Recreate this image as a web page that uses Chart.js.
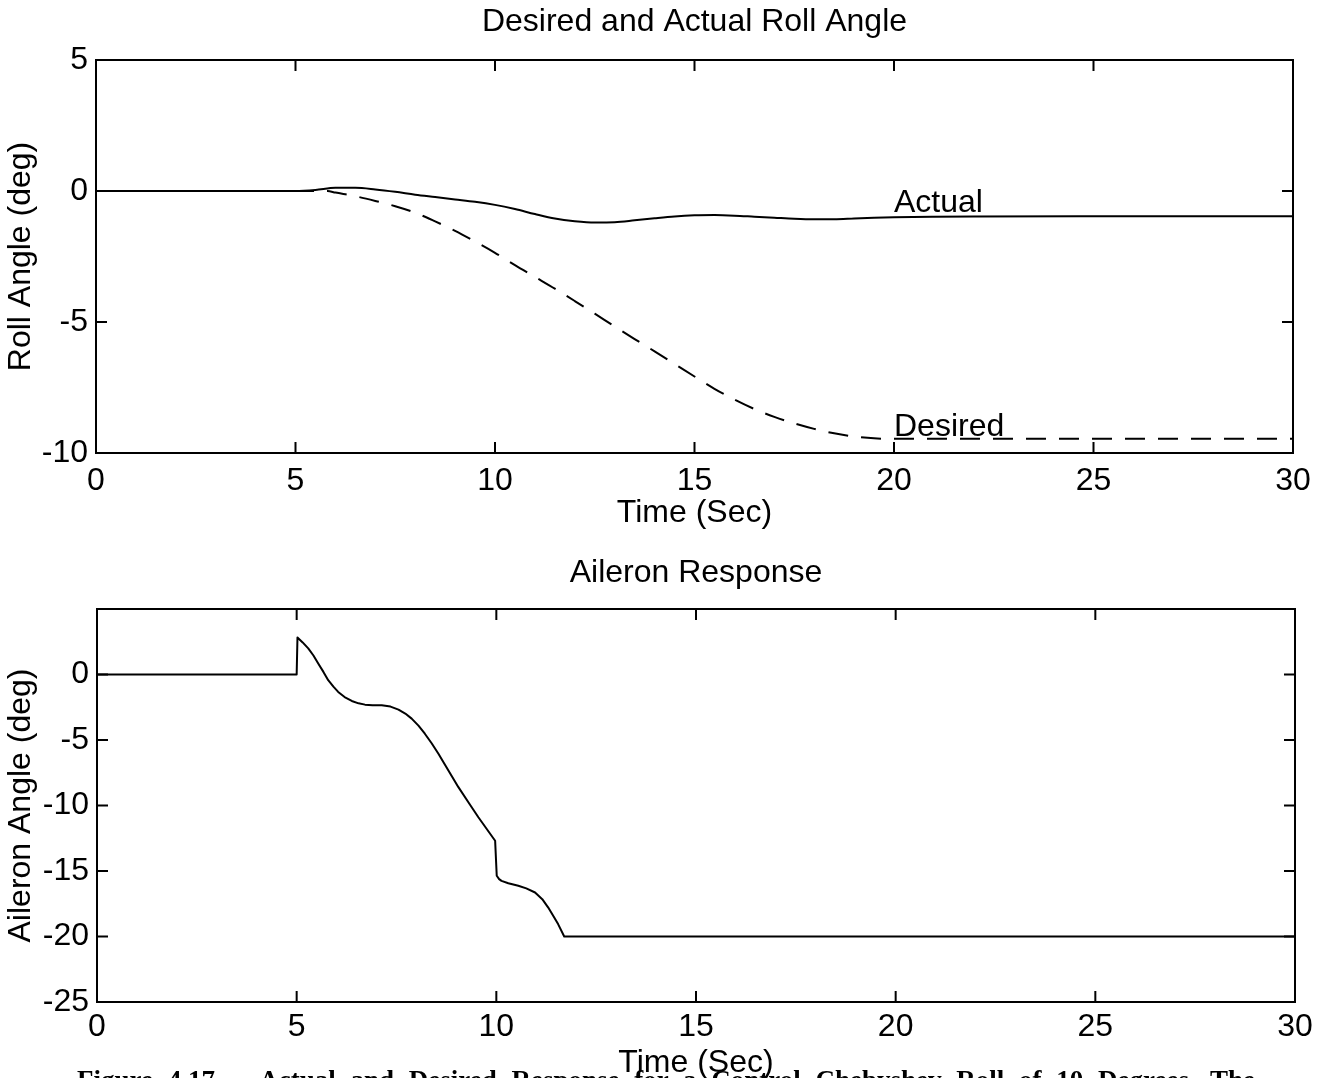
<!DOCTYPE html>
<html>
<head>
<meta charset="utf-8">
<title>Desired and Actual Roll Angle / Aileron Response</title>
<script src="https://cdn.jsdelivr.net/npm/chart.js@4.4.1/dist/chart.umd.min.js"></script>
<style>
  html, body { margin: 0; padding: 0; background: #fff; overflow: hidden; width: 1322px; height: 1078px; }
  #wrap { position: relative; width: 1322px; height: 1078px; overflow: hidden; }
  #c1 { position: absolute; left: 0; top: 0; }
  #c2 { position: absolute; left: 0; top: 540px; }
  #caption {
    position: absolute; left: 77px; top: 1065px; white-space: nowrap;
    font: bold 27px "Liberation Serif", "DejaVu Serif", serif; color: #000; word-spacing: 8px;
  }
</style>
</head>
<body>
<div id="wrap">
  <canvas id="c1" width="1322" height="540"></canvas>
  <canvas id="c2" width="1322" height="545"></canvas>
  <div id="caption">Figure 4.17&nbsp;&nbsp;&nbsp;Actual and Desired Response for a Control Chebyshev Roll of 10 Degrees. The</div>
</div>
<script>
// ---- Roll angle (deg) vs time (s) ----
const rollActualTime = [0, 5, 5.5, 6, 6.5, 7, 7.5, 8, 8.5, 9, 9.5, 10, 10.5, 11, 11.5, 12, 12.5, 13, 13.5, 14, 14.5, 15, 15.5, 16, 16.5, 17, 17.5, 18, 18.5, 19, 19.5, 20, 21, 22, 25, 30];
const rollActual     = [0, 0, 0.04, 0.12, 0.12, 0.06, -0.03, -0.14, -0.23, -0.32, -0.41, -0.53, -0.69, -0.88, -1.05, -1.15, -1.20, -1.19, -1.12, -1.04, -0.97, -0.93, -0.92, -0.94, -0.98, -1.02, -1.06, -1.08, -1.08, -1.05, -1.02, -1.00, -0.98, -0.97, -0.96, -0.96];

const rollDesiredTime = [0, 5.8, 6, 6.5, 7, 7.5, 8, 8.5, 9, 9.5, 10, 10.5, 11, 11.5, 12, 12.5, 13, 13.5, 14, 14.5, 15, 15.5, 16, 16.5, 17, 17.5, 18, 18.5, 19, 19.5, 20, 25, 30];
const rollDesired     = [0, 0, -0.06, -0.20, -0.38, -0.58, -0.83, -1.16, -1.52, -1.93, -2.36, -2.83, -3.28, -3.73, -4.20, -4.68, -5.17, -5.65, -6.12, -6.60, -7.08, -7.55, -7.96, -8.32, -8.62, -8.87, -9.08, -9.25, -9.37, -9.44, -9.46, -9.46, -9.46];

// ---- Aileron deflection (deg) vs time (s) ----
const aileronTime = [0, 5, 5.02, 5.15, 5.29, 5.42, 5.54, 5.67, 5.79, 5.92, 6.04, 6.2, 6.38, 6.55, 6.71, 6.9, 7.13, 7.35, 7.55, 7.72, 7.88, 8.05, 8.21, 8.38, 8.55, 8.8, 9.05, 9.3, 9.55, 9.97, 10.01, 10.07, 10.13, 10.3, 10.55, 10.75, 10.97, 11.15, 11.3, 11.45, 11.55, 11.7, 30];
const aileron     = [0, 0, 2.83, 2.45, 1.99, 1.45, 0.84, 0.2, -0.43, -0.93, -1.33, -1.72, -2.02, -2.20, -2.30, -2.34, -2.35, -2.45, -2.68, -2.98, -3.37, -3.90, -4.52, -5.25, -6.05, -7.33, -8.60, -9.75, -10.90, -12.69, -15.36, -15.62, -15.75, -15.93, -16.13, -16.33, -16.64, -17.15, -17.79, -18.55, -19.07, -20, -20];

// ---- Axes, ticks and text ----
const timeRange = [0, 30];
const timeStep = 5;
const rollRange = [-10, 5];
const aileronRange = [-25, 5];
const angleStep = 5;
const titles = ['Desired and Actual Roll Angle', 'Aileron Response'];
const xTitle = 'Time (Sec)';
const yTitles = ['Roll Angle (deg)', 'Aileron Angle (deg)'];
const curveNotes = [
  { text: 'Actual', x: 20, y: -0.45 },
  { text: 'Desired', x: 20, y: -9.0 }
];

const FONT = '"Liberation Sans", Arial, Helvetica, sans-serif';
const FS = 32;
Chart.defaults.color = '#000';
Chart.defaults.font.family = FONT;

const pts = (ts, vs) => ts.map((t, i) => ({ x: t, y: vs[i] }));

// Box frame with inward tick marks on all four sides, plus in-plot text labels
function framePlugin(notes) {
  return {
    id: 'frame',
    afterDraw(chart) {
      const { ctx, chartArea: a, scales: { x, y } } = chart;
      ctx.save();
      ctx.strokeStyle = '#000';
      ctx.lineWidth = 2;
      ctx.strokeRect(a.left, a.top, a.right - a.left, a.bottom - a.top);
      const len = 11;
      ctx.beginPath();
      x.ticks.forEach(t => {
        if (t.value <= x.min || t.value >= x.max) return;
        const p = x.getPixelForValue(t.value);
        ctx.moveTo(p, a.bottom); ctx.lineTo(p, a.bottom - len);
        ctx.moveTo(p, a.top); ctx.lineTo(p, a.top + len);
      });
      y.ticks.forEach(t => {
        if (t.value <= y.min || t.value >= y.max) return;
        const p = y.getPixelForValue(t.value);
        ctx.moveTo(a.left, p); ctx.lineTo(a.left + len, p);
        ctx.moveTo(a.right, p); ctx.lineTo(a.right - len, p);
      });
      ctx.stroke();
      ctx.fillStyle = '#000';
      ctx.font = FS + 'px ' + FONT;
      ctx.textAlign = 'left';
      ctx.textBaseline = 'middle';
      notes.forEach(n => ctx.fillText(n.text, x.getPixelForValue(n.x), y.getPixelForValue(n.y)));
      ctx.restore();
    }
  };
}

function makeOptions(cfg) {
  return {
    responsive: false,
    animation: false,
    events: [],
    layout: { padding: { left: 0, right: cfg.padRight, top: 0, bottom: 0 } },
    plugins: {
      legend: { display: false },
      tooltip: { enabled: false },
      title: {
        display: true,
        fullSize: false,
        text: cfg.title,
        color: '#000',
        font: { size: FS, weight: 'normal', lineHeight: 1.2 },
        padding: { top: cfg.titleTop, bottom: cfg.titleBottom }
      }
    },
    scales: {
      x: {
        type: 'linear',
        min: timeRange[0], max: timeRange[1],
        grid: { display: false, drawTicks: false, tickLength: 0 },
        border: { display: false },
        ticks: { stepSize: timeStep, padding: cfg.xTickPad, font: { size: FS, lineHeight: 1.2 }, maxRotation: 0, autoSkip: false },
        title: { display: true, text: xTitle, font: { size: FS, lineHeight: 1.2 }, padding: { top: 0, bottom: cfg.xTitlePad } },
        afterFit(s) { s.height = cfg.xHeight; }
      },
      y: {
        type: 'linear',
        min: cfg.yRange[0], max: cfg.yRange[1],
        grid: { display: false, drawTicks: false, tickLength: 0 },
        border: { display: false },
        ticks: {
          stepSize: angleStep, padding: 8, font: { size: FS, lineHeight: 1.2 },
          callback: cfg.yLabel
        },
        title: { display: true, text: cfg.yTitle, font: { size: FS, lineHeight: 1.2 }, padding: { top: 2, bottom: 0 } },
        afterFit(s) { s.width = cfg.yWidth; }
      }
    }
  };
}

new Chart(document.getElementById('c1'), {
  type: 'line',
  data: {
    datasets: [
      {
        label: 'Desired',
        data: pts(rollDesiredTime, rollDesired),
        borderColor: '#000', borderWidth: 2, borderDash: [20, 13],
        pointRadius: 0, fill: false, cubicInterpolationMode: 'monotone'
      },
      {
        label: 'Actual',
        data: pts(rollActualTime, rollActual),
        borderColor: '#000', borderWidth: 2,
        pointRadius: 0, fill: false, cubicInterpolationMode: 'monotone'
      }
    ]
  },
  options: makeOptions({
    title: titles[0], titleTop: 3, titleBottom: 18.6,
    padRight: 29, xHeight: 87, xTickPad: 9, xTitlePad: 8,
    yRange: rollRange, yTitle: yTitles[0], yWidth: 96,
    yLabel: v => v
  }),
  plugins: [framePlugin(curveNotes)]
});

new Chart(document.getElementById('c2'), {
  type: 'line',
  data: {
    datasets: [
      {
        label: 'Aileron',
        data: pts(aileronTime, aileron),
        borderColor: '#000', borderWidth: 2, borderJoinStyle: 'round',
        pointRadius: 0, fill: false, tension: 0
      }
    ]
  },
  options: makeOptions({
    title: titles[1], titleTop: 14, titleBottom: 16.6,
    padRight: 27, xHeight: 83, xTickPad: 6, xTitlePad: 3,
    yRange: aileronRange, yTitle: yTitles[1], yWidth: 97,
    yLabel: v => (v > 0 ? '' : v)
  }),
  plugins: [framePlugin([])]
});
</script>
</body>
</html>
